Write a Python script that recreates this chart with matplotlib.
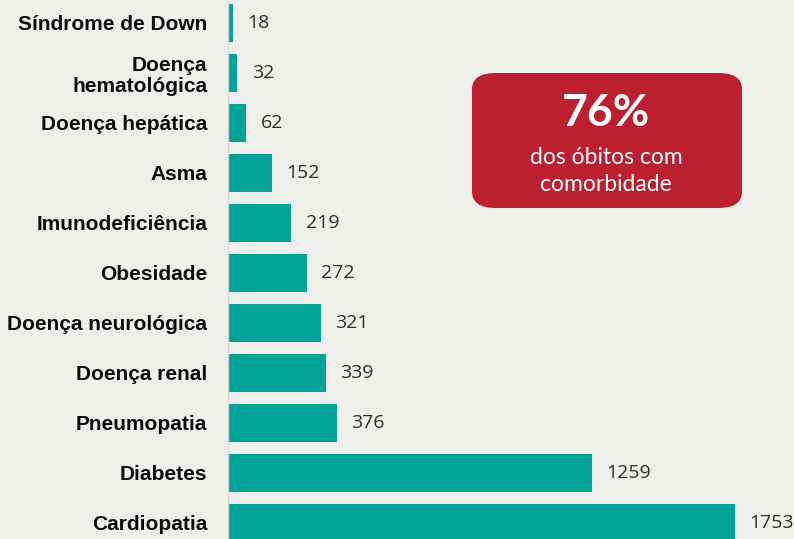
import matplotlib.pyplot as plt
from matplotlib.patches import FancyBboxPatch

# data (top to bottom)
categories = [
    "Síndrome de Down",
    "Doença\nhematológica",
    "Doença hepática",
    "Asma",
    "Imunodeficiência",
    "Obesidade",
    "Doença neurológica",
    "Doença renal",
    "Pneumopatia",
    "Diabetes",
    "Cardiopatia",
]
deaths = [18, 32, 62, 152, 219, 272, 321, 339, 376, 1259, 1753]

share_text = "76%"
share_caption = "dos óbitos com\ncomorbidade"

bg = "#efefec"
teal = "#00a396"
red = "#bc1f2f"

fig = plt.figure(figsize=(7.94, 5.39), dpi=100, facecolor=bg)
W, H = 794, 539
ax = fig.add_axes([228 / W, 0, 1 - 228 / W, 1])
ax.set_facecolor("none")

ypos = list(range(len(categories)))
ax.barh(ypos, deaths, height=0.76, color=teal, zorder=2)
ax.set_xlim(0, 1957)
ax.set_ylim((539 - 23) / 50, -23 / 50)

for y, v in zip(ypos, deaths):
    ax.text(v + 50, y, str(v), va="center", ha="left", fontsize=14,
            color="#2e2e2e", family="Open Sans")

ax.set_yticks(ypos)
ax.set_yticklabels(categories, fontsize=15, fontweight="bold",
                   family="Liberation Sans", color="#0a0a0a", linespacing=1.15)
ax.tick_params(axis="y", length=0, pad=15)
ax.set_xticks([])
for s in ["top", "right", "bottom"]:
    ax.spines[s].set_visible(False)
ax.spines["left"].set_color("#d6d6d3")
ax.spines["left"].set_linewidth(1.0)

# red callout box (figure pixel coordinates)
box = FancyBboxPatch((472 / W, 1 - 208 / H), 270 / W, 135 / H,
                     boxstyle="round,pad=0,rounding_size=0.03",
                     transform=fig.transFigure, facecolor=red,
                     edgecolor="none", zorder=5)
fig.patches.append(box)
fig.text(606 / W, 1 - 113 / H, share_text, ha="center", va="center",
         fontsize=32, fontweight="bold", color="white", family="Lato", zorder=6)
fig.text(606 / W, 1 - 171 / H, share_caption, ha="center", va="center",
         fontsize=16.5, color="white", family="Lato", fontweight="normal",
         linespacing=1.3, zorder=6)

fig.savefig("out.png", dpi=100, facecolor=bg)
